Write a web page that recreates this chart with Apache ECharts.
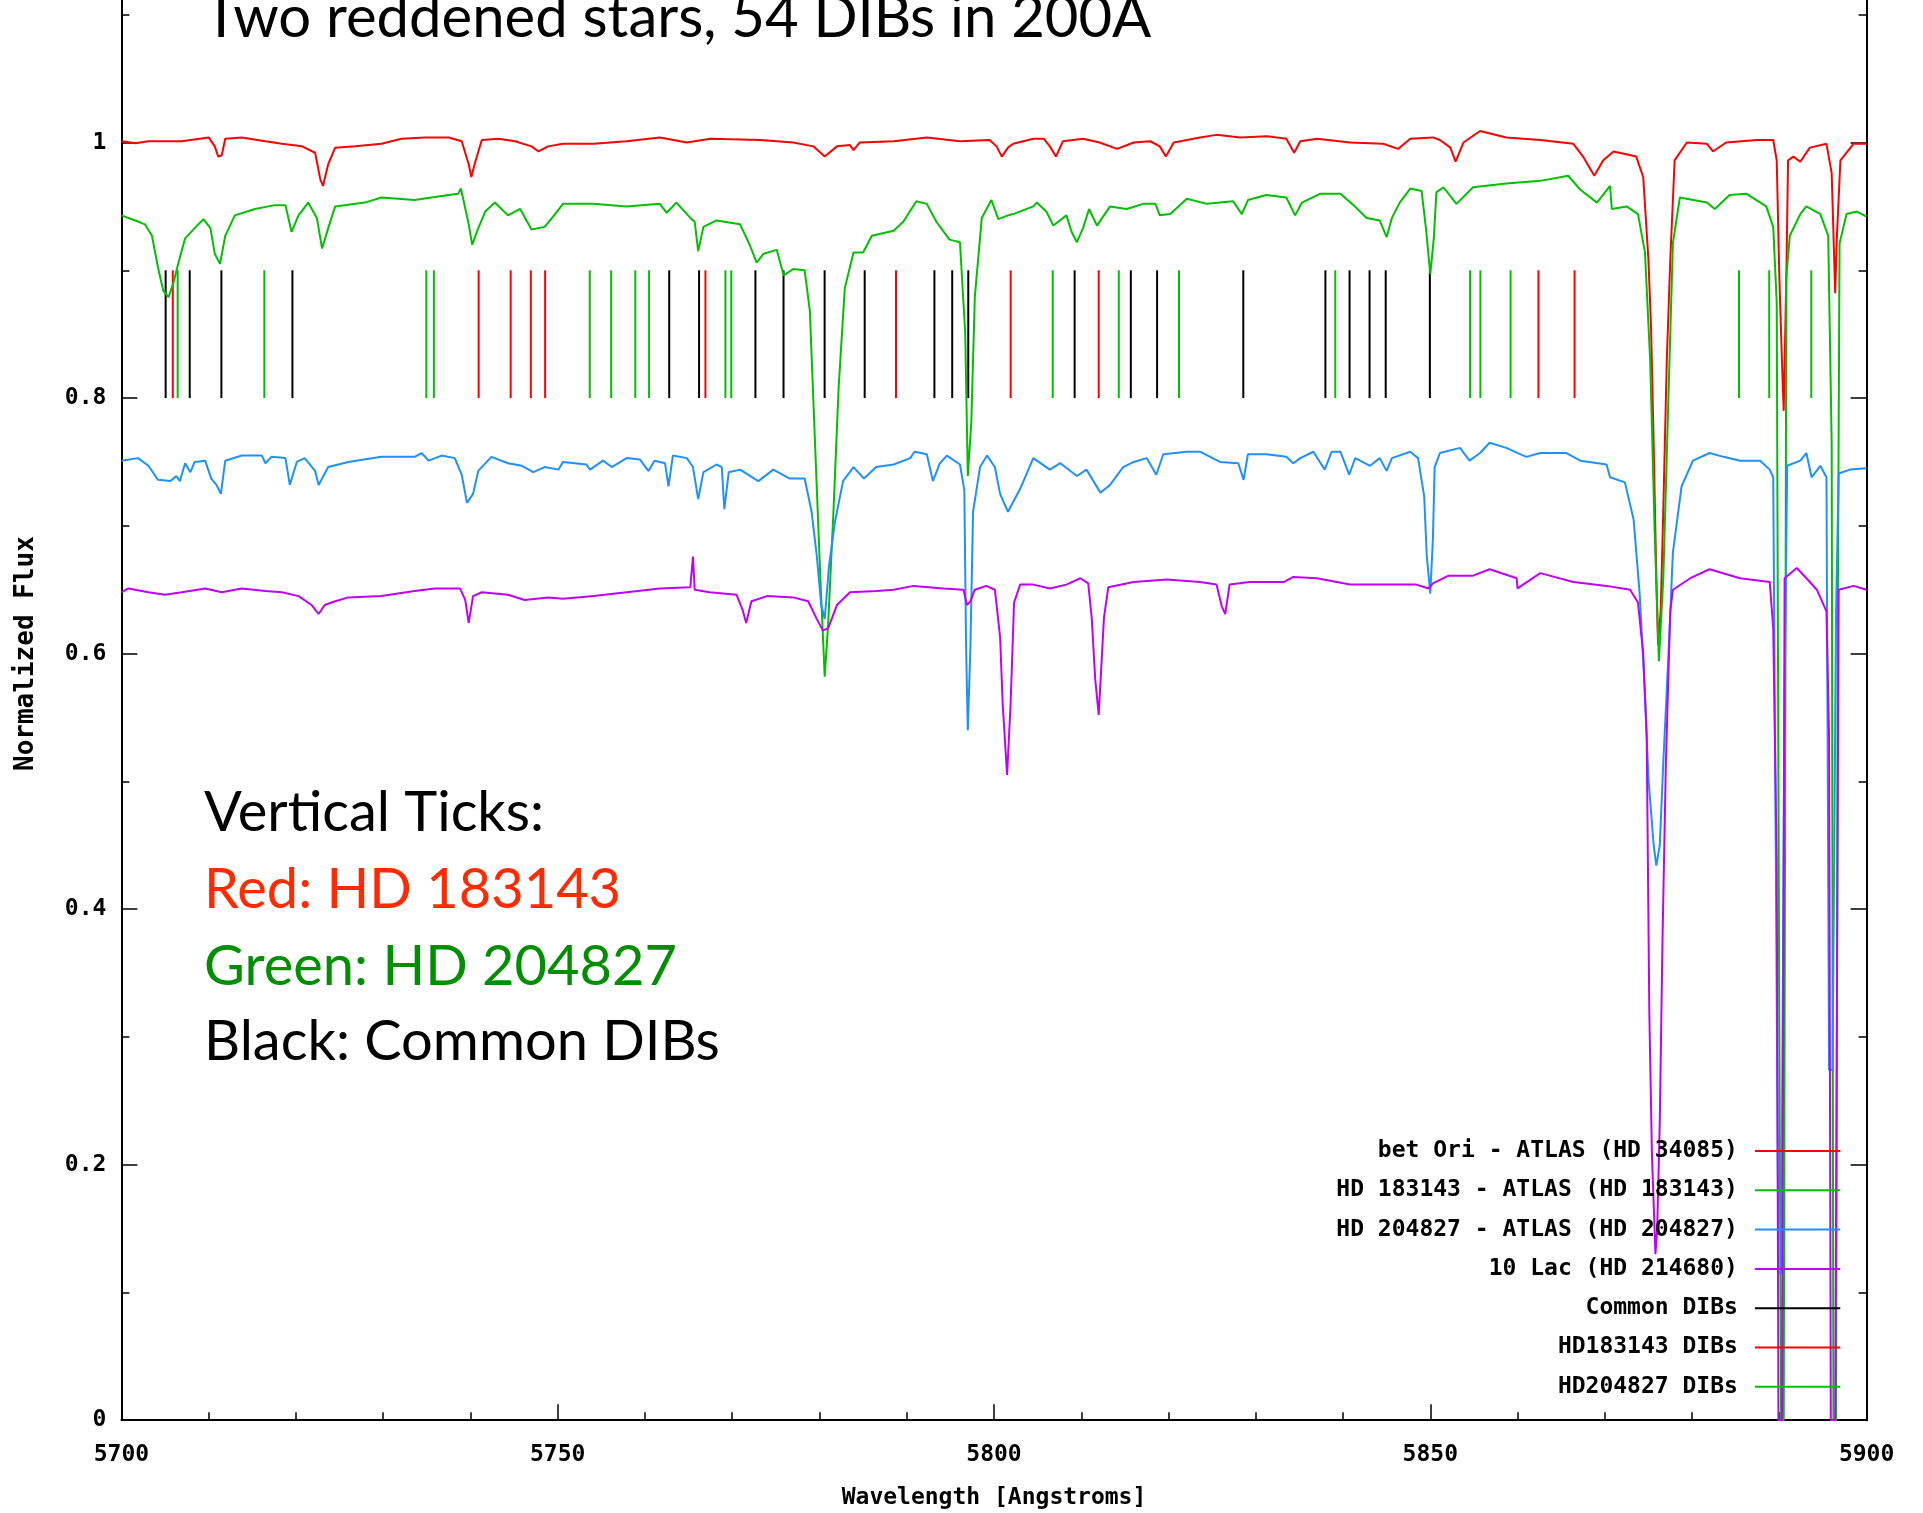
<!DOCTYPE html>
<html>
<head>
<meta charset="utf-8">
<script src="https://cdn.jsdelivr.net/npm/echarts@6/dist/echarts.min.js"></script>
<style>
html,body{margin:0;padding:0;background:#fff;overflow:hidden;width:1923px;height:1513px;position:relative;}
#chart{position:absolute;left:0;width:1923px;}
</style>
</head>
<body>
<div id="chart"></div>
<script>
// ---- Data (wavelength [A], normalized flux) ----
const seriesNames = ['bet Ori - ATLAS (HD 34085)', 'HD 183143 - ATLAS (HD 183143)', 'HD 204827 - ATLAS (HD 204827)', '10 Lac (HD 214680)', 'Common DIBs', 'HD183143 DIBs', 'HD204827 DIBs'];

const betOri = [[5700.0,1.001],[5701.6,0.9995],[5703.1,1.001],[5706.9,1.001],[5710.0,1.004],[5710.7,0.997],[5711.1,0.989],[5711.5,0.990],[5711.9,1.003],[5713.8,1.004],[5716.5,1.001],[5718.4,0.999],[5720.7,0.997],[5722.2,0.992],[5722.8,0.971],[5723.1,0.966],[5723.7,0.983],[5724.5,0.996],[5726.8,0.997],[5729.8,0.999],[5732.1,1.003],[5734.8,1.004],[5737.5,1.004],[5739.0,1.001],[5739.8,0.983],[5740.1,0.973],[5740.6,0.986],[5741.3,1.002],[5743.2,1.003],[5745.1,1.001],[5747.0,0.997],[5747.8,0.993],[5748.9,0.997],[5750.6,0.999],[5754.1,0.999],[5757.9,1.001],[5761.7,1.004],[5764.8,1.000],[5767.5,1.003],[5773.2,1.002],[5777.0,1.000],[5779.3,0.997],[5780.6,0.989],[5782.0,0.997],[5783.5,0.998],[5783.9,0.994],[5784.6,1.000],[5788.5,1.001],[5792.3,1.004],[5796.1,1.001],[5799.5,1.002],[5800.3,0.997],[5800.9,0.989],[5801.6,0.996],[5802.2,0.999],[5804.5,1.003],[5805.7,1.003],[5806.4,0.997],[5807.1,0.989],[5807.9,1.001],[5810.2,1.003],[5812.1,1.000],[5814.1,0.995],[5816.0,1.000],[5817.9,1.001],[5819.0,0.997],[5819.7,0.989],[5820.6,1.000],[5823.6,1.004],[5825.5,1.006],[5828.2,1.004],[5831.3,1.005],[5833.5,1.003],[5834.4,0.992],[5835.1,1.001],[5837.0,1.003],[5840.8,1.000],[5844.6,0.999],[5846.3,0.995],[5847.7,1.003],[5850.3,1.004],[5851.1,1.002],[5852.3,0.996],[5852.9,0.985],[5853.8,1.000],[5855.7,1.009],[5858.7,1.004],[5862.6,1.002],[5866.4,0.999],[5867.5,0.989],[5868.8,0.974],[5869.8,0.986],[5871.0,0.993],[5873.6,0.989],[5874.4,0.973],[5875.0,0.908],[5875.3,0.855],[5875.6,0.764],[5875.9,0.659],[5876.1,0.607],[5876.4,0.633],[5876.7,0.712],[5877.1,0.829],[5877.5,0.908],[5878.0,0.986],[5879.4,1.000],[5881.7,0.999],[5882.4,0.993],[5883.9,1.000],[5887.4,1.002],[5889.3,1.002],[5889.7,0.986],[5890.0,0.895],[5890.3,0.829],[5890.5,0.790],[5890.8,0.895],[5891.0,0.986],[5891.6,0.989],[5892.4,0.985],[5893.5,0.996],[5895.4,0.999],[5896.0,0.976],[5896.4,0.882],[5896.6,0.927],[5897.0,0.986],[5898.5,0.999],[5900.0,0.999]];

const hd183143 = [[5700.0,0.943],[5701.6,0.939],[5702.7,0.936],[5703.5,0.927],[5704.2,0.902],[5704.8,0.884],[5705.4,0.879],[5706.0,0.891],[5706.5,0.905],[5707.3,0.925],[5708.4,0.933],[5709.4,0.940],[5710.2,0.933],[5710.7,0.913],[5711.3,0.905],[5711.9,0.927],[5713.0,0.943],[5715.3,0.948],[5717.6,0.951],[5718.8,0.951],[5719.5,0.930],[5720.3,0.943],[5721.4,0.953],[5722.4,0.941],[5723.0,0.917],[5723.7,0.933],[5724.5,0.950],[5727.9,0.953],[5729.8,0.957],[5733.6,0.955],[5737.5,0.959],[5738.6,0.960],[5738.9,0.964],[5739.2,0.955],[5739.8,0.936],[5740.2,0.920],[5740.9,0.933],[5741.7,0.946],[5742.8,0.953],[5744.3,0.943],[5745.7,0.948],[5747.0,0.932],[5748.5,0.934],[5749.7,0.944],[5750.6,0.952],[5754.1,0.952],[5757.9,0.950],[5761.7,0.952],[5762.5,0.945],[5763.6,0.953],[5765.2,0.941],[5765.7,0.938],[5766.1,0.915],[5766.7,0.934],[5768.2,0.939],[5770.9,0.936],[5772.0,0.920],[5772.8,0.906],[5773.6,0.913],[5775.1,0.916],[5775.9,0.896],[5777.0,0.901],[5778.3,0.900],[5778.9,0.868],[5779.5,0.763],[5780.1,0.659],[5780.6,0.582],[5781.0,0.624],[5781.6,0.711],[5782.2,0.809],[5782.9,0.886],[5783.9,0.914],[5785.0,0.914],[5786.0,0.927],[5788.5,0.931],[5789.6,0.938],[5791.1,0.954],[5792.3,0.952],[5793.4,0.938],[5794.9,0.924],[5796.1,0.922],[5796.7,0.851],[5797.0,0.739],[5797.4,0.781],[5797.8,0.879],[5798.6,0.941],[5799.7,0.955],[5800.5,0.940],[5801.6,0.943],[5802.2,0.944],[5804.5,0.950],[5804.9,0.953],[5806.0,0.946],[5806.8,0.935],[5808.3,0.943],[5808.9,0.930],[5809.5,0.922],[5810.2,0.933],[5810.9,0.948],[5811.8,0.935],[5813.3,0.950],[5815.2,0.948],[5817.1,0.952],[5818.5,0.952],[5819.0,0.943],[5820.2,0.944],[5822.1,0.956],[5824.4,0.952],[5827.4,0.954],[5828.4,0.944],[5829.1,0.955],[5831.2,0.959],[5833.5,0.957],[5834.5,0.943],[5835.3,0.953],[5837.4,0.960],[5839.7,0.960],[5841.2,0.951],[5842.7,0.941],[5844.2,0.939],[5845.0,0.926],[5845.6,0.941],[5846.5,0.953],[5847.7,0.964],[5849.0,0.962],[5849.5,0.933],[5850.0,0.897],[5850.4,0.925],[5850.7,0.961],[5851.5,0.965],[5853.0,0.952],[5854.9,0.965],[5858.7,0.968],[5862.6,0.970],[5865.8,0.974],[5867.2,0.963],[5869.1,0.953],[5870.6,0.966],[5870.8,0.948],[5872.5,0.950],[5873.8,0.944],[5874.6,0.914],[5875.2,0.829],[5875.7,0.698],[5876.2,0.594],[5876.7,0.659],[5877.3,0.803],[5877.8,0.921],[5878.6,0.957],[5881.7,0.953],[5882.6,0.948],[5884.3,0.959],[5886.2,0.960],[5888.5,0.950],[5889.3,0.934],[5889.7,0.875],[5890.0,0.300],[5890.2,0.0],[5890.5,0.0],[5890.8,0.895],[5891.2,0.927],[5892.4,0.944],[5893.1,0.950],[5894.7,0.944],[5895.6,0.927],[5896.0,0.764],[5896.2,0.0],[5896.5,0.0],[5896.7,0.633],[5896.9,0.921],[5897.7,0.944],[5898.9,0.946],[5900.0,0.942]];

const hd204827 = [[5700.0,0.751],[5701.9,0.753],[5703.1,0.747],[5704.2,0.736],[5705.6,0.735],[5706.3,0.739],[5706.7,0.735],[5707.3,0.749],[5707.9,0.742],[5708.4,0.750],[5709.6,0.751],[5710.3,0.737],[5710.9,0.732],[5711.4,0.725],[5711.9,0.751],[5713.8,0.755],[5716.1,0.755],[5716.5,0.749],[5717.2,0.754],[5718.8,0.753],[5719.3,0.732],[5720.1,0.750],[5721.0,0.753],[5722.2,0.743],[5722.6,0.732],[5723.7,0.746],[5726.0,0.750],[5729.8,0.754],[5733.6,0.754],[5734.4,0.757],[5735.2,0.751],[5736.7,0.755],[5738.2,0.753],[5739.0,0.740],[5739.6,0.718],[5740.3,0.725],[5740.9,0.743],[5742.4,0.754],[5744.3,0.749],[5745.9,0.747],[5747.2,0.742],[5748.5,0.746],[5750.1,0.744],[5750.6,0.750],[5753.3,0.748],[5753.7,0.744],[5755.2,0.751],[5756.2,0.746],[5757.9,0.753],[5759.4,0.752],[5760.4,0.743],[5761.1,0.751],[5762.3,0.749],[5762.7,0.731],[5763.2,0.755],[5764.8,0.753],[5765.5,0.746],[5766.1,0.721],[5766.7,0.742],[5768.2,0.748],[5768.8,0.746],[5769.1,0.713],[5769.6,0.742],[5770.9,0.744],[5773.0,0.735],[5774.7,0.744],[5776.6,0.737],[5778.3,0.737],[5779.1,0.711],[5779.7,0.676],[5780.2,0.638],[5780.6,0.627],[5781.1,0.669],[5781.8,0.704],[5782.7,0.735],[5783.9,0.746],[5785.1,0.737],[5786.5,0.746],[5788.5,0.748],[5790.4,0.753],[5790.9,0.758],[5792.3,0.756],[5793.0,0.735],[5793.8,0.749],[5794.6,0.755],[5796.1,0.748],[5796.6,0.728],[5796.8,0.606],[5797.0,0.540],[5797.3,0.606],[5797.6,0.711],[5798.4,0.746],[5799.2,0.755],[5800.1,0.746],[5800.7,0.725],[5801.6,0.711],[5803.0,0.729],[5804.5,0.753],[5806.4,0.744],[5807.6,0.749],[5809.5,0.739],[5810.6,0.744],[5812.2,0.726],[5813.3,0.732],[5814.8,0.746],[5816.0,0.750],[5817.5,0.753],[5818.6,0.740],[5819.4,0.756],[5822.1,0.758],[5823.6,0.758],[5825.9,0.750],[5828.0,0.749],[5828.6,0.736],[5829.1,0.756],[5831.2,0.756],[5833.5,0.754],[5834.3,0.749],[5835.1,0.753],[5836.6,0.758],[5837.9,0.744],[5838.7,0.758],[5839.7,0.758],[5840.7,0.740],[5841.4,0.753],[5843.1,0.747],[5844.2,0.753],[5845.0,0.743],[5845.6,0.753],[5847.7,0.758],[5848.6,0.753],[5849.3,0.723],[5849.6,0.676],[5850.0,0.647],[5850.3,0.690],[5850.5,0.746],[5851.1,0.757],[5853.4,0.761],[5854.5,0.751],[5855.7,0.757],[5856.8,0.765],[5858.7,0.761],[5861.0,0.754],[5862.6,0.757],[5865.6,0.757],[5867.2,0.751],[5870.2,0.748],[5870.6,0.738],[5872.3,0.734],[5873.3,0.705],[5874.0,0.646],[5874.6,0.568],[5875.0,0.502],[5875.6,0.450],[5875.9,0.434],[5876.3,0.450],[5876.7,0.515],[5877.3,0.600],[5877.8,0.679],[5878.8,0.731],[5880.1,0.751],[5882.0,0.757],[5883.6,0.754],[5885.5,0.751],[5887.8,0.751],[5888.9,0.744],[5889.3,0.738],[5889.6,0.437],[5889.9,0.115],[5890.2,0.115],[5890.6,0.568],[5890.9,0.747],[5892.4,0.751],[5893.1,0.757],[5893.7,0.738],[5894.7,0.747],[5895.4,0.738],[5895.7,0.274],[5896.1,0.274],[5896.5,0.633],[5896.8,0.741],[5898.1,0.744],[5900.0,0.745]];

const lac10 = [[5700.0,0.648],[5700.8,0.651],[5703.1,0.648],[5705.0,0.646],[5706.9,0.648],[5709.6,0.651],[5711.5,0.648],[5713.8,0.651],[5716.5,0.649],[5718.4,0.648],[5720.3,0.645],[5721.8,0.638],[5722.6,0.631],[5723.3,0.638],[5724.5,0.641],[5726.0,0.644],[5729.8,0.645],[5733.6,0.649],[5735.9,0.651],[5738.8,0.651],[5739.4,0.642],[5739.8,0.624],[5740.3,0.645],[5741.3,0.648],[5744.3,0.646],[5746.2,0.642],[5748.9,0.644],[5750.6,0.643],[5754.1,0.645],[5757.9,0.648],[5761.7,0.651],[5765.2,0.652],[5765.5,0.676],[5765.7,0.650],[5767.4,0.648],[5770.5,0.646],[5771.2,0.634],[5771.6,0.624],[5772.2,0.641],[5774.0,0.645],[5777.0,0.644],[5778.7,0.641],[5779.7,0.627],[5780.4,0.618],[5781.0,0.620],[5782.0,0.638],[5783.5,0.648],[5786.5,0.649],[5788.5,0.650],[5790.8,0.653],[5794.2,0.651],[5796.5,0.650],[5796.9,0.638],[5797.3,0.641],[5797.8,0.650],[5799.1,0.653],[5800.1,0.650],[5800.7,0.613],[5801.0,0.560],[5801.5,0.505],[5801.9,0.560],[5802.3,0.640],[5803.0,0.654],[5804.5,0.654],[5806.4,0.651],[5808.3,0.654],[5809.9,0.659],[5810.8,0.655],[5811.2,0.628],[5811.6,0.580],[5812.0,0.552],[5812.3,0.590],[5812.6,0.628],[5813.1,0.652],[5816.0,0.656],[5819.8,0.658],[5823.6,0.656],[5825.5,0.654],[5826.1,0.637],[5826.5,0.631],[5827.0,0.654],[5829.3,0.656],[5833.2,0.656],[5834.3,0.660],[5837.0,0.659],[5840.8,0.654],[5844.6,0.654],[5848.4,0.654],[5849.8,0.651],[5850.3,0.655],[5852.1,0.661],[5854.9,0.661],[5856.8,0.666],[5859.9,0.659],[5860.0,0.651],[5862.6,0.663],[5866.4,0.656],[5870.2,0.653],[5872.9,0.650],[5873.8,0.640],[5874.4,0.600],[5874.8,0.535],[5875.1,0.319],[5875.4,0.208],[5875.8,0.130],[5876.0,0.149],[5876.3,0.234],[5876.6,0.372],[5877.0,0.515],[5877.5,0.633],[5877.8,0.650],[5879.8,0.659],[5882.0,0.666],[5885.5,0.659],[5888.9,0.656],[5889.3,0.620],[5889.7,0.437],[5889.9,0.0],[5890.3,0.0],[5890.6,0.659],[5892.0,0.667],[5893.1,0.659],[5894.3,0.650],[5895.4,0.633],[5895.7,0.535],[5895.9,0.0],[5896.4,0.0],[5896.8,0.650],[5898.5,0.653],[5900.0,0.650]];

// DIB marker wavelengths
const dibCommon = [5705.07,5707.83,5711.46,5719.60,5762.78,5766.20,5772.66,5775.88,5780.59,5785.18,5793.17,5795.21,5797.05,5809.24,5815.68,5818.69,5828.57,5837.98,5840.75,5843.04,5844.89,5849.95];
const dib183143 = [5705.89,5740.94,5744.61,5746.92,5748.56,5766.93,5788.77,5801.91,5812.00,5862.39,5866.53];
const dib204827 = [5706.45,5716.38,5734.94,5735.81,5753.67,5756.13,5758.89,5760.47,5769.22,5769.89,5806.73,5814.30,5821.20,5839.11,5854.56,5855.74,5859.20,5885.38,5888.84,5893.66];
const dibTickRange = [0.8, 0.9];

const xTicks = {min: 5700, max: 5900, interval: 50};
const yTicks = {min: 0, max: 1.2, interval: 0.2};

const colors = ['#ff0000', '#00c000', '#1e90ff', '#c000ff', '#000000', '#ff0000', '#00c000'];

const MONO = "'DejaVu Sans Mono', monospace";

// The original figure is cropped at the top: the chart canvas extends above the page.
const PX_PER_UNIT = 1278;
const AXIS_BOTTOM_Y = 1420.2;
const OFFSET = Math.round(PX_PER_UNIT * yTicks.max - AXIS_BOTTOM_Y);   // hidden part above the page
const chartDiv = document.getElementById('chart');
chartDiv.style.top = (-OFFSET) + 'px';
chartDiv.style.height = (1513 + OFFSET) + 'px';

function specSeries(name, data, color) {
  return {
    type: 'line', name: name, data: data, showSymbol: false, symbol: 'none',
    lineStyle: {color: color, width: 2}, itemStyle: {color: color},
    animation: false, silent: true
  };
}
function dibSeries(name, arr, color) {
  return {
    type: 'custom', name: name,
    data: arr.map(w => [w, dibTickRange[0], dibTickRange[1]]),
    encode: {x: 0, y: [1, 2]},
    itemStyle: {color: color},
    animation: false, silent: true,
    renderItem: function (params, api) {
      const p1 = api.coord([api.value(0), api.value(1)]);
      const p2 = api.coord([api.value(0), api.value(2)]);
      return {type: 'line', shape: {x1: p1[0], y1: p1[1], x2: p2[0], y2: p2[1]},
              style: {stroke: color, lineWidth: 2}};
    }
  };
}

const chart = echarts.init(chartDiv, null, {renderer: 'canvas'});

const axisLabelStyle = {fontFamily: MONO, fontWeight: 'bold', fontSize: 23, color: '#000'};

chart.setOption({
  backgroundColor: '#ffffff',
  animation: false,
  grid: {left: 121.4, right: 56.4, bottom: 92.8, top: 0, containLabel: false, outerBoundsMode: 'none'},
  xAxis: {
    type: 'value', min: xTicks.min, max: xTicks.max, interval: xTicks.interval,
    name: 'Wavelength [Angstroms]', nameLocation: 'middle', nameGap: 66,
    nameTextStyle: {fontFamily: MONO, fontWeight: 'bold', fontSize: 23, color: '#000'},
    axisLine: {lineStyle: {color: '#000', width: 2}},
    axisTick: {inside: true, length: 16, lineStyle: {color: '#000', width: 1.5}},
    minorTick: {show: true, splitNumber: 5, length: 8, lineStyle: {color: '#000', width: 1.5}},
    axisLabel: Object.assign({margin: 23, formatter: v => String(v)}, axisLabelStyle),
    splitLine: {show: false}
  },
  yAxis: [{
    type: 'value', min: yTicks.min, max: yTicks.max, interval: yTicks.interval, position: 'left',
    name: 'Normalized Flux', nameLocation: 'middle', nameGap: 82, nameRotate: 90,
    nameTextStyle: {fontFamily: MONO, fontWeight: 'bold', fontSize: 26, color: '#000', align: 'center'},
    axisLine: {show: true, lineStyle: {color: '#000', width: 2}},
    axisTick: {show: true, inside: true, length: 16, lineStyle: {color: '#000', width: 1.5}},
    minorTick: {show: true, splitNumber: 2, length: 8, lineStyle: {color: '#000', width: 1.5}},
    axisLabel: Object.assign({margin: 15, showMaxLabel: false}, axisLabelStyle),
    splitLine: {show: false}
  }, {
    type: 'value', min: yTicks.min, max: yTicks.max, interval: yTicks.interval, position: 'right',
    axisLine: {show: true, lineStyle: {color: '#000', width: 2}},
    axisTick: {show: true, inside: true, length: 16, lineStyle: {color: '#000', width: 1.5}},
    minorTick: {show: true, splitNumber: 2, length: 8, lineStyle: {color: '#000', width: 1.5}},
    axisLabel: {show: false},
    splitLine: {show: false}
  }],
  legend: {
    orient: 'vertical', align: 'right', right: 82.7, top: 1139 + OFFSET, padding: 0,
    itemGap: 15.3, itemWidth: 85.4, itemHeight: 2, icon: 'rect', selectedMode: false,
    textStyle: {fontFamily: MONO, fontWeight: 'bold', fontSize: 23, lineHeight: 24, color: '#000', padding: [0, 12, 0, 0]},
    data: seriesNames
  },
  series: [
    specSeries(seriesNames[0], betOri, colors[0]),
    specSeries(seriesNames[1], hd183143, colors[1]),
    specSeries(seriesNames[2], hd204827, colors[2]),
    specSeries(seriesNames[3], lac10, colors[3]),
    dibSeries(seriesNames[4], dibCommon, colors[4]),
    dibSeries(seriesNames[5], dib183143, colors[5]),
    dibSeries(seriesNames[6], dib204827, colors[6])
  ],
  graphic: [
    {type: 'text', x: 204, y: 18 + OFFSET, style: {text: 'Two reddened stars, 54 DIBs in 200A', font: "58px Lato", fill: '#000', verticalAlign: 'middle'}},
    {type: 'text', x: 204, y: 813 + OFFSET, style: {text: 'Vertical Ticks:', font: "56px Lato", fill: '#000', verticalAlign: 'middle'}},
    {type: 'text', x: 204, y: 890 + OFFSET, style: {text: 'Red: HD 183143', font: "56px Lato", fill: '#ff2a00', verticalAlign: 'middle'}},
    {type: 'text', x: 204, y: 967 + OFFSET, style: {text: 'Green: HD 204827', font: "56px Lato", fill: '#008f00', verticalAlign: 'middle'}},
    {type: 'text', x: 204, y: 1042 + OFFSET, style: {text: 'Black: Common DIBs', font: "56px Lato", fill: '#000', verticalAlign: 'middle'}}
  ]
});
</script>
</body>
</html>
